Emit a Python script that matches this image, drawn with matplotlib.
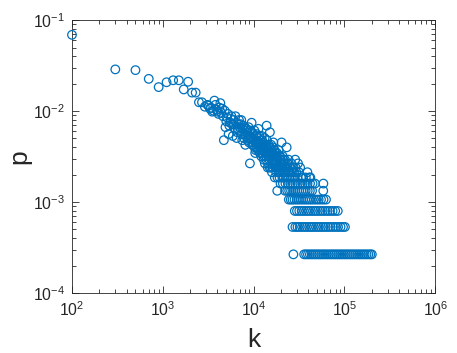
import numpy as np
import matplotlib
matplotlib.use('Agg')
import matplotlib.pyplot as plt

# fonts: helvetica-like, as in a MATLAB export
plt.rcParams['font.family'] = ['Liberation Sans', 'DejaVu Sans']
plt.rcParams['mathtext.fontset'] = 'custom'
plt.rcParams['mathtext.rm'] = 'Liberation Sans'
plt.rcParams['mathtext.default'] = 'regular'

# total number of samples (p = count / total)
total = 3760

# first part of the curve, points can be read one by one
k_head = [100, 300, 500, 700, 900, 1100, 1300, 1500, 1700, 1900, 2100, 2300, 2500, 2700, 2900,
          3100, 3300, 3500, 3700, 3900, 4100, 4300, 4500, 4700, 4900, 5100, 5300, 5500, 5700,
          5900, 6100, 6300, 6500, 6700, 6900]
n_head = [259, 108, 106, 85, 69, 78, 82, 82, 65, 79, 60, 60, 47, 47, 42,
          44, 40, 37, 49, 39, 35, 46, 40, 18, 25, 32, 21, 28, 33,
          20, 27, 33, 19, 24, 30]

# dense cloud between 3e3 and 4e4
k_cloud = [7100, 7300, 7500, 7700, 7900, 8100, 8300, 8500, 8700, 8900,
           9100, 9300, 9500, 9700, 9900, 10100, 10300, 10500, 10700, 10900,
           11100, 11300, 11500, 11700, 11900, 12100, 12300, 12500, 12700, 12900,
           13100, 13300, 13500, 13700, 13900, 14100, 14300, 14500, 14700, 14900, 15100, 15300, 15500,
           15700, 15900, 16100, 16300, 16500, 16700, 16900, 17100, 17300, 17500, 17700, 17900,
           18100, 18300, 18500, 18700, 18900, 19100, 19300, 19500, 19700, 19900,
           20100, 20300, 20500, 20700, 20900, 21100, 21300, 21500, 21700, 21900, 22100, 22300,
           22700, 23100, 23300, 23700, 24100, 24500, 25100, 25700, 26300, 27100, 27500, 28100,
           28700, 29500, 30500, 31500, 32500, 33500, 35100, 37500, 39100, 41100, 42100]
n_cloud = [22, 30, 18, 26, 21, 16, 24, 23, 19, 17,
           10, 19, 28, 16, 21, 18, 15, 14, 20, 17,
           14, 24, 16, 13, 18, 12, 20, 15, 17, 11,
           14, 10, 16, 12, 26, 13, 9, 12, 15, 11, 22, 14, 9,
           12, 8, 13, 10, 17, 14, 11, 7, 9, 12, 8, 10,
           13, 7, 11, 9, 8, 12, 7, 10, 11, 8,
           9, 17, 10, 7, 12, 8, 10, 7, 9, 8, 11, 8,
           9, 15, 7, 10, 8, 7, 9, 7, 8, 7, 9, 7,
           11, 8, 7, 8, 9, 7, 7, 7, 8, 7, 7]

# more of the cloud (even k values)
k_cloud2 = [3200, 3400, 3600, 3800, 4000, 4200, 4400, 4600, 4800, 5000, 5200, 5400, 5600, 5800,
            6000, 6200, 6400, 6600, 6800, 7000, 7200, 7400, 7600, 7800, 8000, 8200, 8400, 8600,
            8800, 9000, 9200, 9400, 9600, 9800, 10000, 10200, 10400, 10600, 10800, 11000, 11200,
            11400, 11600, 11800, 12000, 12200, 12400, 12600, 12800, 13000, 13200, 13400, 13600,
            13800, 14000, 14200, 14400, 14600, 14800, 15000, 15200, 15400, 15600, 15800, 16000,
            16200, 16400, 16600, 16800, 17000, 17200, 17400, 17600, 17800, 18000, 18400, 18800,
            19200, 19600, 20000, 20400, 21200, 22000, 22600, 23600, 24200, 24800, 26000, 27800,
            29000, 30800]
n_cloud2 = [43, 41, 38, 44, 37, 41, 36, 33, 38, 29, 35, 26, 31, 27,
            30, 24, 28, 22, 27, 25, 27, 21, 24, 19, 25, 20, 22, 18,
            25, 20, 23, 17, 22, 16, 19, 23, 13, 17, 21, 15, 19,
            17, 20, 14, 16, 13, 18, 14, 16, 12, 19, 13, 15,
            11, 18, 14, 10, 16, 13, 9, 15, 12, 16, 11, 13,
            9, 15, 12, 10, 14, 11, 13, 10, 12, 9, 11, 14,
            9, 12, 10, 9, 11, 9, 10, 9, 11, 8, 10, 8,
            9, 10]

# low counts, they form horizontal rows
k_six = [19800, 21000, 22400, 23800, 25400, 27000, 28800, 30600, 32600, 34600, 36800, 39200,
         41800, 44600, 47400, 58600]
k_five = [18200, 22200, 23400, 24600, 25800, 27200, 28600, 30200, 31800, 33600, 35400, 37400,
          39400, 41600, 44000, 58400]
k_four = [24400, 25600, 26800, 28200, 29800, 31400, 33200, 35000, 37000, 39000, 41200, 43600,
          46200, 49000, 52000, 55200, 58800, 62600]
k_three = [28400, 30000, 31800, 33800, 35800, 38000, 40200, 42600, 45200, 48000, 51000, 54200,
           57600, 61200, 65200, 69400, 74000, 79000, 84400]
k_two = [26800, 28800, 30400, 32200, 34200, 36400, 38600, 41000, 43400, 46000, 48800, 51800,
         55000, 58400, 62000, 66000, 70200, 74800, 79800, 85000, 90600, 96400, 101200]
k_one = [27400, 36000, 37800, 39600, 41600, 43600, 45800, 48000, 50400, 52800, 55400, 58200,
         61000, 64000, 67200, 70600, 74000, 77600, 81400, 85400, 89600, 94000, 98600, 103400,
         108400, 113800, 119400, 125200, 131400, 137800, 144600, 151600, 159000, 166800,
         175000, 183600, 192600, 200200]

rows = [(k_six, 6), (k_five, 5), (k_four, 4), (k_three, 3), (k_two, 2), (k_one, 1)]

k_all = list(k_head) + list(k_cloud) + list(k_cloud2)
n_all = list(n_head) + list(n_cloud) + list(n_cloud2)
for ks, n in rows:
    k_all += ks
    n_all += [n] * len(ks)

k_all = np.array(k_all, dtype=float)
p_all = np.array(n_all, dtype=float) / total

fig = plt.figure(figsize=(4.57, 3.53), dpi=100)
ax = fig.add_axes([0.1575, 0.170, 0.795, 0.773])

ax.scatter(k_all, p_all, s=38, facecolors='none', edgecolors='#0072BD', linewidths=0.9,
           clip_on=False, zorder=3)

ax.set_xscale('log')
ax.set_yscale('log')
ax.set_xlim(1e2, 1e6)
ax.set_ylim(1e-4, 1e-1)
ax.set_xticks([1e2, 1e3, 1e4, 1e5, 1e6])
ax.set_yticks([1e-4, 1e-3, 1e-2, 1e-1])

grey = '#262626'
for s in ax.spines.values():
    s.set_color(grey)
    s.set_linewidth(0.6)
ax.tick_params(which='both', direction='in', top=True, right=True, colors=grey,
               width=0.6, labelsize=11.3)
ax.tick_params(which='major', length=5, pad=5)
ax.tick_params(which='minor', length=3)

ax.set_xlabel('k', fontsize=19, color=grey, labelpad=7)
ax.set_ylabel('p', fontsize=19, color=grey)
ax.yaxis.set_label_coords(-0.112, 0.5)

fig.savefig('out.png', dpi=100)
